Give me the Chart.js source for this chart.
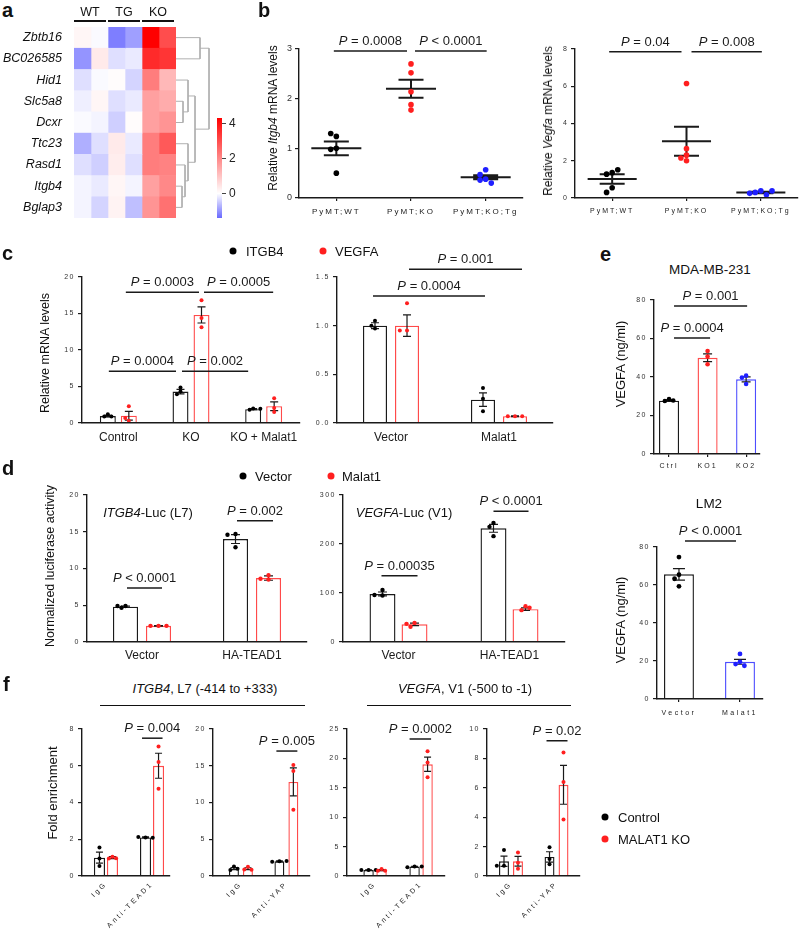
<!DOCTYPE html>
<html>
<head>
<meta charset="utf-8">
<script src="https://cdn.jsdelivr.net/npm/chart.js@4.4.1/dist/chart.umd.min.js"></script>
<style>
  html, body { margin: 0; padding: 0; background: #fff; }
  #fig { position: relative; width: 800px; height: 939px; overflow: hidden;
         font-family: "Liberation Sans", Arial, Helvetica, sans-serif; color: #111; }
  #fig canvas { position: absolute; }
</style>
</head>
<body>
<div id="fig"></div>
<script>
// ---- a: heatmap ----
const heatGenes = ['Zbtb16', 'BC026585', 'Hid1', 'Slc5a8', 'Dcxr', 'Ttc23', 'Rasd1', 'Itgb4', 'Bglap3'];
const heatSamples = ['WT', 'WT', 'TG', 'TG', 'KO', 'KO'];
const heatGroups = ['WT', 'TG', 'KO'];
const heatValues = [
  [0.15, -0.05, -1.2, -0.9, 4.3, 3.0],
  [-1.0, 0.35, -0.3, -0.2, 3.6, 3.4],
  [-0.3, -0.05, 0.05, -0.4, 2.2, 1.2],
  [-0.15, 0.15, -0.3, -0.2, 1.6, 1.4],
  [-0.05, -0.1, -0.45, 0.05, 1.6, 1.8],
  [-0.75, -0.3, 0.35, -0.2, 2.2, 2.8],
  [-0.3, -0.45, 0.3, -0.3, 2.2, 2.1],
  [-0.1, -0.2, 0.15, -0.1, 1.6, 2.0],
  [-0.1, -0.4, 0.2, -0.6, 1.8, 2.4]
];
const heatRange = [-1.4, 4.3];
const heatTicks = [0, 2, 4];
// [node a, node b, merge height]; leaves are 0-8, merges numbered from 9
const dendroMerges = [[3, 4, 7], [7, 8, 6], [6, 10, 9], [2, 9, 12], [5, 11, 12], [0, 1, 24], [12, 13, 19], [14, 15, 33]];

// ---- b ----
const bGroups = ['PyMT;WT', 'PyMT;KO', 'PyMT;KO;Tg'];
const bItgb4Ticks = [0, 1, 2, 3];
const bItgb4Points = [[1.24, 1.3, 1.0, 0.98, 0.5], [2.7, 2.52, 2.14, 1.88, 1.77], [0.57, 0.47, 0.38, 0.36, 0.3]];
const bItgb4Mean = [1.0, 2.2, 0.42];
const bItgb4Sem = [0.14, 0.18, 0.04];
const bVegfaTicks = [0, 2, 4, 6, 8];
const bVegfaPoints = [[1.36, 1.28, 1.52, 0.55, 0.3], [6.15, 2.65, 2.3, 2.0, 2.15], [0.38, 0.3, 0.17, 0.25, 0.38]];
const bVegfaMean = [1.02, 3.05, 0.3];
const bVegfaSem = [0.25, 0.78, 0.04];

// ---- c ----
const cGroups = ['Control', 'KO', 'KO + Malat1'];
const cTicks = [0, 5, 10, 15, 20];
const cItgb4Mean = [0.95, 4.3, 1.9];
const cItgb4Sem = [0.1, 0.3, 0.08];
const cItgb4Pts = [[1.2, 0.9, 0.9], [4.85, 4.3, 3.95], [2.0, 1.8, 1.95]];
const cVegfaMean = [1.0, 14.8, 2.3];
const cVegfaSem = [0.6, 1.1, 0.6];
const cVegfaPts = [[2.3, 0.3, 0.7], [16.8, 14.4, 13.1], [3.4, 2.05, 1.5]];
const cvGroups = ['Vector', 'Malat1'];
const cvTicks = [0, 0.5, 1.0, 1.5];
const cvItgb4Mean = [1.0, 0.24];
const cvItgb4Sem = [0.03, 0.07];
const cvItgb4Pts = [[1.05, 0.97, 1.0], [0.36, 0.25, 0.12]];
const cvVegfaMean = [1.0, 0.07];
const cvVegfaSem = [0.11, 0.004];
const cvVegfaPts = [[1.23, 0.95, 0.95], [0.07, 0.07, 0.07]];

// ---- d ----
const dGroups = ['Vector', 'HA-TEAD1'];
const dItgb4Ticks = [0, 5, 10, 15, 20];
const dItgb4VecMean = [4.8, 14.0];
const dItgb4VecSem = [0.1, 0.6];
const dItgb4VecPts = [[4.9, 4.65, 4.9], [14.7, 14.6, 12.9]];
const dItgb4MalMean = [2.2, 8.7];
const dItgb4MalSem = [0.03, 0.3];
const dItgb4MalPts = [[2.2, 2.2, 2.2], [9.1, 8.5, 8.6]];
const dVegfaTicks = [0, 100, 200, 300];
const dVegfaVecMean = [98, 232];
const dVegfaVecSem = [4, 8];
const dVegfaVecPts = [[106, 95, 96], [243, 235, 216]];
const dVegfaMalMean = [36, 67];
const dVegfaMalSem = [2.5, 2.5];
const dVegfaMalPts = [[39, 31, 37], [73, 65, 70]];

// ---- e ----
const eGroups = ['Ctrl', 'KO1', 'KO2'];
const eTicks = [0, 20, 40, 60, 80];
const eMdaMean = [27.7, 50, 38.8];
const eMdaSem = [0.4, 2.0, 1.3];
const eMdaPts = [[28.5, 27.5, 27.8], [53.5, 50.6, 46.6], [40.7, 39.7, 36.4]];
const lm2Groups = ['Vector', 'Malat1'];
const lm2Mean = [65.6, 19.6];
const lm2Sem = [3.0, 1.3];
const lm2Pts = [[74.7, 65.4, 63.3, 59.3], [23.7, 19.5, 18.4, 17.5]];

// ---- f ----
const fTeadGroups = ['IgG', 'Anti-TEAD1'];
const fYapGroups = ['IgG', 'Anti-YAP'];
const f1Ticks = [0, 2, 4, 6, 8];
const f1CtrlMean = [1.0, 2.1], f1CtrlSem = [0.3, 0.03], f1CtrlPts = [[1.55, 0.95, 0.55], [2.1, 2.12, 2.08]];
const f1KoMean = [1.0, 6.0], f1KoSem = [0.05, 0.68], f1KoPts = [[1.05, 0.95, 0.97], [7.05, 6.2, 4.75]];
const f2Ticks = [0, 5, 10, 15, 20];
const f2CtrlMean = [1.0, 2.0], f2CtrlSem = [0.15, 0.07], f2CtrlPts = [[1.3, 0.8, 1.0], [2.0, 1.95, 2.05]];
const f2KoMean = [1.0, 12.8], f2KoSem = [0.12, 1.9], f2KoPts = [[1.25, 0.9, 0.85], [15.1, 14.3, 9.0]];
const f3Ticks = [0, 5, 10, 15, 20, 25];
const f3CtrlMean = [1.0, 1.6], f3CtrlSem = [0.05, 0.05], f3CtrlPts = [[1.0, 1.0, 1.0], [1.6, 1.5, 1.6]];
const f3KoMean = [1.0, 19.0], f3KoSem = [0.1, 1.2], f3KoPts = [[1.2, 0.9, 0.9], [21.2, 19.3, 16.8]];
const f4Ticks = [0, 2, 4, 6, 8, 10];
const f4CtrlMean = [1.0, 1.3], f4CtrlSem = [0.35, 0.35], f4CtrlPts = [[1.77, 0.7, 0.7], [1.95, 0.8, 1.15]];
const f4KoMean = [1.0, 6.2], f4KoSem = [0.33, 1.32], f4KoPts = [[1.6, 0.9, 0.5], [8.4, 6.4, 3.85]];

const FONT = '"Liberation Sans", Arial, Helvetica, sans-serif';
const INK = '#1a1a1a';
const RED_BAR = '#ff4a4a', BLUE_BAR = '#4d4dff';
const RED_DOT = '#ff1f1f', BLUE_DOT = '#1f1fff';

Chart.defaults.font.family = FONT;
Chart.defaults.color = INK;
Chart.defaults.animation = false;

const fig = document.getElementById('fig');

function makeCanvas(box, m) {
  const c = document.createElement('canvas');
  const w = box.r - box.l + m.l + m.r, h = box.b - box.t + m.t + m.b;
  c.width = w; c.height = h;
  Object.assign(c.style, { left: (box.l - m.l) + 'px', top: (box.t - m.t) + 'px', width: w + 'px', height: h + 'px' });
  fig.appendChild(c);
  return c;
}

function heatColor(v) {
  if (v >= 0) {
    const c = Math.round(255 * (1 - Math.min(v / heatRange[1], 1)));
    return `rgb(255,${c},${c})`;
  }
  const c = Math.round(255 - 150 * Math.min(v / heatRange[0], 1));
  return `rgb(${c},${c},255)`;
}

// spread dots sideways only where they would overlap
function swarm(ys, r, step) {
  const placed = [];
  return ys.map(y => {
    for (let k = 0; k < 14; k++) {
      const dx = k === 0 ? 0 : (k % 2 ? -1 : 1) * Math.ceil(k / 2) * step;
      if (placed.every(p => Math.hypot(p[0] - dx, p[1] - y) >= 1.9 * r)) { placed.push([dx, y]); return dx; }
    }
    return 0;
  });
}

function makeSpacing(ySp, xSp) {
  return {
    id: 'spacing',
    beforeDraw(chart) { chart.ctx.letterSpacing = ySp; },
    beforeDatasetsDraw(chart) { chart.ctx.letterSpacing = xSp; },
    afterDraw(chart) { chart.ctx.letterSpacing = '0px'; }
  };
}

function makeOverlay(o) {
  return {
    id: 'overlay',
    afterDatasetsDraw(chart) {
      const ctx = chart.ctx, ys = chart.scales.y;
      ctx.save();
      ctx.strokeStyle = INK; ctx.lineWidth = o.errW;
      chart.data.datasets.forEach((ds, di) => {
        chart.getDatasetMeta(di).data.forEach((el, i) => {
          const m = ds.data[i].y, s = ds.sem[i];
          const hi = ys.getPixelForValue(m + s), lo = ys.getPixelForValue(m - s);
          ctx.beginPath();
          if (ds.meanLine) { ctx.moveTo(el.x - el.width / 2, el.y); ctx.lineTo(el.x + el.width / 2, el.y); }
          ctx.moveTo(el.x, hi); ctx.lineTo(el.x, lo);
          ctx.moveTo(el.x - o.capW, hi); ctx.lineTo(el.x + o.capW, hi);
          ctx.moveTo(el.x - o.capW, lo); ctx.lineTo(el.x + o.capW, lo);
          ctx.stroke();
        });
      });
      chart.data.datasets.forEach((ds, di) => {
        chart.getDatasetMeta(di).data.forEach((el, i) => {
          const py = ds.pts[i].map(v => ys.getPixelForValue(v));
          const dx = swarm(py, o.r, o.step);
          ctx.fillStyle = Array.isArray(ds.dot) ? ds.dot[i] : ds.dot;
          py.forEach((y, k) => { ctx.beginPath(); ctx.arc(el.x + dx[k], y, o.r, 0, Math.PI * 2); ctx.fill(); });
        });
      });
      ctx.restore();
    }
  };
}

// comparison bars: a/b = [dataset, category]; off = pixel trim of each end
function makeBrackets(items) {
  return {
    id: 'brackets',
    afterDraw(chart) {
      const ctx = chart.ctx, ys = chart.scales.y;
      ctx.save();
      ctx.letterSpacing = '0px';
      ctx.strokeStyle = INK; ctx.fillStyle = INK; ctx.lineWidth = 1.5;
      ctx.textAlign = 'left'; ctx.textBaseline = 'alphabetic';
      (items || []).forEach(b => {
        const ea = chart.getDatasetMeta(b.a[0]).data[b.a[1]];
        const eb = chart.getDatasetMeta(b.b[0]).data[b.b[1]];
        const off = b.off || [-3, 0];
        const x1 = ea.x + off[0], x2 = eb.x + off[1], y = ys.getPixelForValue(b.y);
        ctx.beginPath(); ctx.moveTo(x1, y); ctx.lineTo(x2, y); ctx.stroke();
        ctx.font = `italic 13px ${FONT}`;
        const wp = ctx.measureText('P').width;
        ctx.font = `13px ${FONT}`;
        const wr = ctx.measureText(b.text).width;
        const x0 = (x1 + x2) / 2 - (wp + wr) / 2;
        ctx.font = `italic 13px ${FONT}`; ctx.fillText('P', x0, y - 6);
        ctx.font = `13px ${FONT}`; ctx.fillText(b.text, x0 + wp, y - 6);
      });
      ctx.restore();
    }
  };
}

function barPanel(box, m, opt) {
  const o = Object.assign({ xTick: 0, rot: 0, xPad: 6, xFont: 7, yFont: 7, ySp: '1.5px', xSp: '2px',
    r: 2, capW: 4, errW: 1.2, step: 4, catPct: 0.6, barPct: 0.75, brackets: [] }, opt);
  const yTicks = o.yTicks;
  return new Chart(makeCanvas(box, m), {
    type: 'bar',
    data: {
      datasets: o.series.map(s => ({
        data: s.mean.map((v, i) => ({ x: i, y: v })),
        sem: s.sem, pts: s.pts, dot: s.dot, meanLine: !!s.meanLine,
        backgroundColor: s.hidden ? 'rgba(0,0,0,0)' : '#ffffff',
        borderColor: s.hidden ? 'rgba(0,0,0,0)' : s.color,
        borderWidth: s.hidden ? 0 : 1.4,
        borderSkipped: 'start',
        categoryPercentage: o.catPct,
        barPercentage: o.barPct
      }))
    },
    options: {
      responsive: false, animation: false,
      layout: { padding: { left: 0, top: m.t, right: m.r, bottom: 0 } },
      plugins: { legend: { display: false }, tooltip: { enabled: false } },
      scales: {
        x: {
          type: 'linear', min: o.xMin, max: o.xMax, offset: false,
          afterBuildTicks: s => { s.ticks = o.labels.map((_, i) => ({ value: i })); },
          afterFit: s => { s.height = m.b; s.paddingLeft = 0; s.paddingRight = 0; },
          grid: { display: o.xTick > 0, drawOnChartArea: false, drawTicks: o.xTick > 0, tickLength: o.xTick,
                  color: INK, lineWidth: 1.2, offset: false },
          border: { color: INK, width: 1.4, z: 1 },
          ticks: { z: 1, autoSkip: false, minRotation: o.rot, maxRotation: o.rot, padding: o.xPad,
                   color: INK, font: { size: o.xFont }, callback: v => o.labels[v] }
        },
        y: {
          min: yTicks[0], max: yTicks[yTicks.length - 1],
          afterBuildTicks: s => { s.ticks = yTicks.map(v => ({ value: v })); },
          afterFit: s => { s.width = m.l; s.paddingTop = 0; s.paddingBottom = 0; },
          grid: { drawOnChartArea: false, drawTicks: true, tickLength: 4, color: INK, lineWidth: 1.2 },
          border: { color: INK, width: 1.4 },
          ticks: { padding: 3, color: '#333', font: { size: o.yFont },
                   callback: v => (o.yFmt ? o.yFmt(v) : String(v)) }
        }
      }
    },
    plugins: [makeSpacing(o.ySp, o.xSp), makeOverlay(o), makeBrackets(o.brackets)]
  });
}

// ---------- a: heatmap ----------
(function () {
  const box = { l: 74, t: 27, r: 176, b: 218 }, m = { l: 74, t: 0, r: 0, b: 0 };
  new Chart(makeCanvas(box, m), {
    type: 'bar',
    data: {
      labels: heatGenes,
      datasets: heatSamples.map((s, j) => ({
        label: s,
        data: heatGenes.map(() => 1),
        backgroundColor: heatValues.map(row => heatColor(row[j])),
        borderWidth: 0, barPercentage: 1, categoryPercentage: 1
      }))
    },
    options: {
      indexAxis: 'y', responsive: false, animation: false,
      layout: { padding: 0 },
      plugins: { legend: { display: false }, tooltip: { enabled: false } },
      scales: {
        x: { stacked: true, min: 0, max: heatSamples.length, display: false },
        y: {
          stacked: true,
          afterFit: s => { s.width = m.l; s.paddingTop = 0; s.paddingBottom = 0; },
          grid: { display: false, drawTicks: false }, border: { display: false },
          ticks: { padding: 12, color: '#111', font: { size: 12.5, style: 'italic' } }
        }
      }
    }
  });
})();

// dendrogram
(function () {
  const box = { l: 176, t: 27, r: 211, b: 218 };
  const nodes = heatGenes.map((g, i) => ({ y: i, h: 0 }));
  const sets = dendroMerges.map(([a, b, h]) => {
    const A = nodes[a], B = nodes[b];
    nodes.push({ y: (A.y + B.y) / 2, h });
    return {
      data: [{ x: A.h, y: A.y }, { x: h, y: A.y }, { x: h, y: B.y }, { x: B.h, y: B.y }],
      showLine: true, borderColor: '#b0b0b0', borderWidth: 1, pointRadius: 0, tension: 0
    };
  });
  new Chart(makeCanvas(box, { l: 0, t: 0, r: 0, b: 0 }), {
    type: 'scatter',
    data: { datasets: sets },
    options: {
      responsive: false, animation: false,
      plugins: { legend: { display: false }, tooltip: { enabled: false } },
      scales: {
        x: { type: 'linear', min: 0, max: 35, display: false },
        y: { type: 'linear', min: -0.5, max: heatGenes.length - 0.5, reverse: true, display: false }
      }
    }
  });
})();

// colour bar
(function () {
  const box = { l: 217, t: 118, r: 222, b: 218 }, m = { l: 0, t: 8, r: 26, b: 8 };
  new Chart(makeCanvas(box, m), {
    type: 'bar',
    data: {
      labels: ['scale'],
      datasets: [{
        data: [heatRange],
        backgroundColor: c => {
          const chart = c.chart;
          if (!chart.chartArea) return '#fff';
          const ys = chart.scales.y;
          const g = chart.ctx.createLinearGradient(0, ys.getPixelForValue(heatRange[0]), 0, ys.getPixelForValue(heatRange[1]));
          const span = heatRange[1] - heatRange[0];
          g.addColorStop(0, heatColor(heatRange[0]));
          g.addColorStop(-heatRange[0] / span, heatColor(0));
          g.addColorStop(1, heatColor(heatRange[1]));
          return g;
        },
        borderWidth: 0, borderSkipped: false, barPercentage: 1, categoryPercentage: 1
      }]
    },
    options: {
      responsive: false, animation: false,
      layout: { padding: { left: 0, top: m.t, right: 0, bottom: m.b } },
      plugins: { legend: { display: false }, tooltip: { enabled: false } },
      scales: {
        x: { display: false },
        y: {
          position: 'right', min: heatRange[0], max: heatRange[1],
          afterBuildTicks: s => { s.ticks = heatTicks.map(v => ({ value: v })); },
          afterFit: s => { s.width = m.r; s.paddingTop = 0; s.paddingBottom = 0; },
          grid: { drawOnChartArea: false, tickLength: 4, color: '#444' },
          border: { display: false },
          ticks: { padding: 3, color: '#222', font: { size: 12 } }
        }
      }
    }
  });
})();

// ---------- b ----------
const bDots = ['#000000', RED_DOT, BLUE_DOT];
barPanel({ l: 299, t: 49, r: 523, b: 198 }, { l: 40, t: 45, r: 8, b: 26 }, {
  labels: bGroups, yTicks: bItgb4Ticks, xMin: -0.5, xMax: 2.5, catPct: 1, barPct: 0.67,
  series: [{ mean: bItgb4Mean, sem: bItgb4Sem, pts: bItgb4Points, dot: bDots, meanLine: true, hidden: true }],
  yFont: 9, ySp: '0px', xFont: 8, xSp: '2px', xTick: 3, xPad: 6, r: 2.8, capW: 12.5, errW: 2, step: 5.6,
  brackets: [{ a: [0, 0], b: [0, 1], y: 2.96, text: ' = 0.0008', off: [-2.5, -4] },
             { a: [0, 1], b: [0, 2], y: 2.96, text: ' < 0.0001', off: [4, 1] }]
});
barPanel({ l: 575, t: 49, r: 798, b: 198 }, { l: 30, t: 45, r: 2, b: 26 }, {
  labels: bGroups, yTicks: bVegfaTicks, xMin: -0.5, xMax: 2.5, catPct: 1, barPct: 0.66,
  series: [{ mean: bVegfaMean, sem: bVegfaSem, pts: bVegfaPoints, dot: bDots, meanLine: true, hidden: true }],
  yFont: 7, ySp: '1px', xFont: 7, xSp: '2px', xTick: 3, xPad: 6, r: 2.8, capW: 12.5, errW: 2, step: 5.6,
  brackets: [{ a: [0, 0], b: [0, 1], y: 7.85, text: ' = 0.04', off: [-3, -5] },
             { a: [0, 1], b: [0, 2], y: 7.85, text: ' = 0.008', off: [5, 1] }]
});

// ---------- c ----------
barPanel({ l: 82, t: 277, r: 300, b: 423 }, { l: 80, t: 16, r: 8, b: 30 }, {
  labels: cGroups, yTicks: cTicks, xMin: -0.5, xMax: 2.5, catPct: 0.578, barPct: 0.76,
  series: [
    { mean: cItgb4Mean, sem: cItgb4Sem, pts: cItgb4Pts, color: INK, dot: '#000' },
    { mean: cVegfaMean, sem: cVegfaSem, pts: cVegfaPts, color: RED_BAR, dot: RED_DOT }
  ],
  xFont: 12, xSp: '0px', xPad: 7, r: 2, capW: 4, step: 3.6,
  brackets: [
    { a: [1, 0], b: [1, 1], y: 17.9, text: ' = 0.0003', off: [-3, -2.5] },
    { a: [1, 1], b: [1, 2], y: 17.9, text: ' = 0.0005', off: [2.5, -1] },
    { a: [0, 0], b: [0, 1], y: 7.1, text: ' = 0.0004', off: [1, -4.5] },
    { a: [0, 1], b: [0, 2], y: 7.1, text: ' = 0.002', off: [1.5, -5] }
  ]
});
barPanel({ l: 337, t: 277, r: 553, b: 423 }, { l: 36, t: 28, r: 12, b: 30 }, {
  labels: cvGroups, yTicks: cvTicks, yFmt: v => v.toFixed(1), xMin: -0.5, xMax: 1.5, catPct: 0.593, barPct: 0.75,
  series: [
    { mean: cvItgb4Mean, sem: cvItgb4Sem, pts: cvItgb4Pts, color: INK, dot: '#000' },
    { mean: cvVegfaMean, sem: cvVegfaSem, pts: cvVegfaPts, color: RED_BAR, dot: RED_DOT }
  ],
  xFont: 12, xSp: '0px', xPad: 7, r: 2, capW: 4, step: 3.6,
  brackets: [{ a: [0, 0], b: [0, 1], y: 1.305, text: ' = 0.0004', off: [-2, 2] },
             { a: [1, 0], b: [1, 1], y: 1.58, text: ' = 0.001', off: [2, 7] }]
});

// ---------- d ----------
barPanel({ l: 87, t: 495, r: 307, b: 642 }, { l: 85, t: 14, r: 8, b: 26 }, {
  labels: dGroups, yTicks: dItgb4Ticks, xMin: -0.5, xMax: 1.5, catPct: 0.6, barPct: 0.76,
  series: [
    { mean: dItgb4VecMean, sem: dItgb4VecSem, pts: dItgb4VecPts, color: INK, dot: '#000' },
    { mean: dItgb4MalMean, sem: dItgb4MalSem, pts: dItgb4MalPts, color: RED_BAR, dot: RED_DOT }
  ],
  xFont: 12, xSp: '0px', xPad: 6, r: 2.2, capW: 4.5, step: 4,
  brackets: [{ a: [0, 0], b: [1, 0], y: 7.35, text: ' < 0.0001', off: [1.5, 3.5] },
             { a: [0, 1], b: [1, 1], y: 16.5, text: ' = 0.002', off: [1.5, 4.5] }]
});
barPanel({ l: 343, t: 495, r: 565, b: 642 }, { l: 36, t: 14, r: 8, b: 26 }, {
  labels: dGroups, yTicks: dVegfaTicks, xMin: -0.5, xMax: 1.5, catPct: 0.577, barPct: 0.81,
  series: [
    { mean: dVegfaVecMean, sem: dVegfaVecSem, pts: dVegfaVecPts, color: INK, dot: '#000' },
    { mean: dVegfaMalMean, sem: dVegfaMalSem, pts: dVegfaMalPts, color: RED_BAR, dot: RED_DOT }
  ],
  xFont: 12, xSp: '0px', xPad: 6, r: 2.2, capW: 4.5, step: 4,
  brackets: [{ a: [0, 0], b: [1, 0], y: 135, text: ' = 0.00035', off: [-1, 3] },
             { a: [0, 1], b: [1, 1], y: 267, text: ' < 0.0001', off: [0, 3] }]
});

// ---------- e ----------
barPanel({ l: 654, t: 300, r: 760, b: 454 }, { l: 30, t: 20, r: 30, b: 24 }, {
  labels: eGroups, yTicks: eTicks, xMin: -0.39, xMax: 2.36, catPct: 1, barPct: 0.52,
  series: [{ mean: eMdaMean, sem: eMdaSem, pts: eMdaPts, color: [INK, RED_BAR, BLUE_BAR], dot: ['#000', RED_DOT, BLUE_DOT] }],
  xFont: 7, xSp: '2px', xTick: 3, xPad: 5, r: 2.3, capW: 4.5, step: 4.2,
  brackets: [{ a: [0, 0], b: [0, 2], y: 76.9, text: ' = 0.001', off: [5, 1] },
             { a: [0, 0], b: [0, 1], y: 60.3, text: ' = 0.0004', off: [5, 2.5] }]
});
barPanel({ l: 657, t: 547, r: 763, b: 699 }, { l: 30, t: 26, r: 30, b: 24 }, {
  labels: lm2Groups, yTicks: eTicks, xMin: -0.36, xMax: 1.377, catPct: 1, barPct: 0.49,
  series: [{ mean: lm2Mean, sem: lm2Sem, pts: lm2Pts, color: [INK, BLUE_BAR], dot: ['#000', BLUE_DOT] }],
  xFont: 7, xSp: '2.5px', xTick: 3, xPad: 7, r: 2.4, capW: 6, step: 4.4,
  brackets: [{ a: [0, 0], b: [0, 1], y: 83.2, text: ' < 0.0001', off: [6, -4] }]
});

// ---------- f ----------
const fOpt = { rot: 45, xFont: 7, xSp: '2.5px', xPad: 4, r: 2, capW: 3.5, step: 3.6 };
barPanel({ l: 82, t: 729, r: 170, b: 876 }, { l: 30, t: 14, r: 12, b: 63 }, Object.assign({}, fOpt, {
  labels: fTeadGroups, yTicks: f1Ticks, xMin: -0.52, xMax: 1.39, catPct: 0.565, barPct: 0.85,
  series: [
    { mean: f1CtrlMean, sem: f1CtrlSem, pts: f1CtrlPts, color: INK, dot: '#000' },
    { mean: f1KoMean, sem: f1KoSem, pts: f1KoPts, color: RED_BAR, dot: RED_DOT }
  ],
  brackets: [{ a: [0, 1], b: [1, 1], y: 7.5, text: ' = 0.004', off: [-3.5, 4] }]
}));
barPanel({ l: 213, t: 729, r: 310, b: 876 }, { l: 25, t: 14, r: 10, b: 63 }, Object.assign({}, fOpt, {
  labels: fYapGroups, yTicks: f2Ticks, xMin: -0.615, xMax: 1.52, catPct: 0.615, barPct: 0.71,
  series: [
    { mean: f2CtrlMean, sem: f2CtrlSem, pts: f2CtrlPts, color: INK, dot: '#000' },
    { mean: f2KoMean, sem: f2KoSem, pts: f2KoPts, color: RED_BAR, dot: RED_DOT }
  ],
  brackets: [{ a: [0, 1], b: [1, 1], y: 17, text: ' = 0.005', off: [-3, 4] }]
}));
barPanel({ l: 347, t: 729, r: 445, b: 876 }, { l: 25, t: 14, r: 10, b: 63 }, Object.assign({}, fOpt, {
  labels: fTeadGroups, yTicks: f3Ticks, xMin: -0.61, xMax: 1.52, catPct: 0.565, barPct: 0.8,
  series: [
    { mean: f3CtrlMean, sem: f3CtrlSem, pts: f3CtrlPts, color: INK, dot: '#000' },
    { mean: f3KoMean, sem: f3KoSem, pts: f3KoPts, color: RED_BAR, dot: RED_DOT }
  ],
  brackets: [{ a: [0, 1], b: [1, 1], y: 23.3, text: ' = 0.0002', off: [-5, 3.5] }]
}));
barPanel({ l: 487, t: 729, r: 580, b: 876 }, { l: 25, t: 14, r: 10, b: 63 }, Object.assign({}, fOpt, {
  labels: fYapGroups, yTicks: f4Ticks, xMin: -0.527, xMax: 1.516, catPct: 0.615, barPct: 0.71,
  series: [
    { mean: f4CtrlMean, sem: f4CtrlSem, pts: f4CtrlPts, color: INK, dot: '#000' },
    { mean: f4KoMean, sem: f4KoSem, pts: f4KoPts, color: RED_BAR, dot: RED_DOT }
  ],
  brackets: [{ a: [0, 1], b: [1, 1], y: 9.2, text: ' = 0.02', off: [-3, 4] }]
}));

// ---------- text, legends, rules ----------
function put(html, x, y, css) {
  const d = document.createElement('div');
  d.innerHTML = html;
  d.style.cssText = `position:absolute;left:${x}px;top:${y}px;white-space:nowrap;line-height:1;${css || ''}`;
  fig.appendChild(d);
  return d;
}
const CEN = 'transform:translate(-50%,-50%);';
const VER = 'transform:translate(-50%,-50%) rotate(-90deg);';
const LEFT = 'transform:translate(0,-50%);';
const rule = (x1, x2, y, w) => put('', x1, y, `width:${x2 - x1}px;height:0;border-top:${w}px solid #111;`);
const dot = (x, y, c) => put('', x, y, `width:7px;height:7px;border-radius:50%;background:${c};${CEN}`);

[['a', 2, 0], ['b', 258, 0], ['c', 2, 243], ['d', 2, 458], ['e', 600, 244], ['f', 3, 674]]
  .forEach(([s, x, y]) => put(s, x, y, 'font-weight:bold;font-size:20px;'));

heatGroups.forEach((g, k) => {
  const x1 = 74 + k * 34, x2 = x1 + 32;
  put(g, (x1 + x2) / 2, 12, 'font-size:12.5px;' + CEN);
  rule(x1, x2, 20, 2);
});

put('Relative <i>Itgb4</i> mRNA levels', 273, 118, 'font-size:12px;' + VER);
put('Relative <i>Vegfa</i> mRNA levels', 548, 121, 'font-size:12px;' + VER);

dot(233, 251, '#000'); put('ITGB4', 246, 251, 'font-size:13px;' + LEFT);
dot(323, 251, RED_DOT); put('VEGFA', 335, 251, 'font-size:13px;' + LEFT);
put('Relative mRNA levels', 45, 353, 'font-size:12.5px;' + VER);

dot(243, 476, '#000'); put('Vector', 255, 476, 'font-size:13px;' + LEFT);
dot(331, 476, RED_DOT); put('Malat1', 342, 476, 'font-size:13px;' + LEFT);
put('Normalized luciferase activity', 50, 566, 'font-size:12.5px;' + VER);
put('<i>ITGB4</i>-Luc (L7)', 148, 512, 'font-size:13px;' + CEN);
put('<i>VEGFA</i>-Luc (V1)', 404, 512, 'font-size:13px;' + CEN);

put('MDA-MB-231', 710, 270, 'font-size:13.5px;' + CEN);
put('VEGFA (ng/ml)', 620, 364, 'font-size:13px;' + VER);
put('LM2', 709, 504, 'font-size:13.5px;' + CEN);
put('VEGFA (ng/ml)', 620, 620, 'font-size:13px;' + VER);

put('<i>ITGB4</i>, L7 (-414 to +333)', 205, 688, 'font-size:13px;' + CEN);
rule(100, 305, 705, 1.5);
put('<i>VEGFA</i>, V1 (-500 to -1)', 465, 688, 'font-size:13px;' + CEN);
rule(367, 571, 705, 1.5);
put('Fold enrichment', 52, 793, 'font-size:13px;' + VER);
dot(605, 817, '#000'); put('Control', 618, 817, 'font-size:13px;' + LEFT);
dot(605, 839, RED_DOT); put('MALAT1 KO', 618, 839, 'font-size:13px;' + LEFT);
</script>
</body>
</html>
